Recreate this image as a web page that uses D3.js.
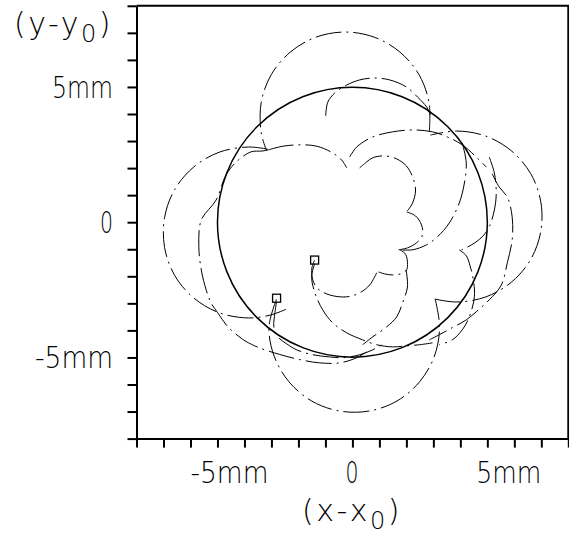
<!DOCTYPE html>
<html><head><meta charset="utf-8">
<script src="https://cdn.jsdelivr.net/npm/d3@7"></script>
<style>body{margin:0;background:#fff}svg{display:block}</style>
</head><body>
<svg id="c" width="569" height="535"></svg>
<script>
// ---- data (mm) ----
const xTickValues = [-8,-7,-6,-5,-4,-3,-2,-1,0,1,2,3,4,5,6,7,8];
const yTickValues = [-8,-7,-6,-5,-4,-3,-2,-1,0,1,2,3,4,5,6,7,8];
const xLabelValues = [-5, 0, 5];
const xLabelTexts = ["-5mm", "0", "5mm"];
const yLabelValues = [5, 0, -5];
const yLabelTexts = ["5mm", "0", "-5mm"];
const circleCenter = [0, 0];
const circleRadius = 5;
const startSquares = [[-1.40, -1.40], [-2.81, -2.81]];

// trajectory 2 (outer lobes)
const lobeB = [[-2.81,-2.84],[-3.09,-3.87],[-2.90,-4.95],[-2.35,-5.90],[-1.51,-6.61],[-0.48,-6.98],[0.62,-6.98],[1.65,-6.61],[2.49,-5.90],[3.04,-4.95],[3.23,-3.87],[3.07,-2.86]];
const lobeR = [[3.05,-2.84],[3.87,-2.95],[4.95,-2.76],[5.90,-2.21],[6.61,-1.37],[6.98,-0.34],[6.98,0.76],[6.61,1.79],[5.90,2.63],[4.95,3.18],[3.87,3.37],[2.89,3.22]];
const lobeT = [[2.85,3.34],[2.84,4.42],[2.47,5.45],[1.76,6.29],[0.81,6.84],[-0.27,7.03],[-1.35,6.84],[-2.30,6.29],[-3.01,5.45],[-3.38,4.42],[-3.38,3.32],[-3.18,2.64]];
const lobeL = [[-3.14,2.70],[-3.85,2.78],[-4.93,2.59],[-5.88,2.04],[-6.59,1.20],[-6.96,0.17],[-6.96,-0.93],[-6.59,-1.96],[-5.88,-2.80],[-4.93,-3.35],[-3.85,-3.54],[-3.03,-3.43],[-2.46,-3.22]];
const arcSq2b = [[-2.81,-2.94],[-2.87,-3.35],[-2.91,-3.87],[-2.76,-4.24],[-2.43,-4.50],[-2.06,-4.72],[-1.47,-4.90],[-0.84,-4.98],[-0.36,-5.01],[0.27,-4.90],[0.75,-4.72],[1.19,-4.46]];
// trajectory 1 pieces
const arcP1 = [[-1.40,-1.40],[-1.50,-1.69],[-1.47,-2.13],[-1.28,-2.46],[-0.84,-2.69],[-0.21,-2.76],[0.27,-2.61],[0.64,-2.32],[0.90,-1.87]];
const arcQ = [[-1.40,-1.54],[-1.51,-2.02],[-1.39,-2.61],[-1.10,-3.24],[-0.73,-3.72],[-0.21,-4.09],[0.38,-4.35],[0.90,-4.53],[1.49,-4.61],[2.01,-4.57],[2.49,-4.53],[2.97,-4.46]];
const arcC1 = [[-3.13,2.67],[-2.57,2.81],[-1.95,2.86],[-1.32,2.81],[-0.73,2.56],[-0.40,2.30],[-0.21,2.01]];
const arcC2 = [[0.27,2.01],[0.53,2.23],[0.75,2.38],[1.19,2.45],[1.64,2.34],[2.00,2.08],[2.23,1.67],[2.34,1.19],[2.23,0.71],[2.01,0.38]];
const arcC3 = [[2.01,0.38],[2.34,0.23],[2.56,-0.10],[2.60,-0.47],[2.38,-0.76],[2.04,-0.95],[1.71,-1.02]];
const arcC4 = [[1.75,-1.02],[1.93,-1.13],[2.01,-1.28],[2.04,-1.50],[2.01,-1.76],[1.78,-1.91],[1.49,-1.95],[1.19,-1.91],[0.97,-1.84]];
const arcD = [[1.99,-1.76],[2.04,-2.39],[1.86,-2.98],[1.64,-3.50],[1.27,-3.87],[0.75,-4.24],[0.38,-4.53]];
const arcS2 = [[-0.99,3.93],[-0.91,4.44],[-0.65,4.78],[-0.21,5.07],[0.27,5.26],[0.82,5.33],[1.38,5.26],[2.00,5.00],[2.41,4.63],[2.75,4.26],[2.89,3.96]];
const arcS3 = [[-0.10,2.41],[0.16,2.78],[0.75,3.15],[1.49,3.34],[2.23,3.41],[2.97,3.34],[3.52,3.15],[4.07,2.86],[4.59,2.41],[4.96,2.04]];
const arcS4 = [[4.07,2.93],[4.22,2.19],[4.15,1.45],[3.96,0.71],[3.59,-0.03],[3.15,-0.54],[2.74,-0.84],[2.23,-1.02],[1.75,-1.02]];
const arcR1 = [[5.07,2.41],[5.26,1.82],[5.33,1.08],[5.26,0.45],[5.07,-0.17],[4.81,-0.54],[4.41,-0.84],[4.04,-1.02]];
const arcR2 = [[5.18,1.79],[5.44,1.30],[5.74,0.93],[5.92,0.20],[5.92,-0.65],[5.74,-1.50],[5.52,-2.32],[5.07,-2.87],[4.59,-3.31],[4.22,-3.61],[3.70,-3.90],[3.22,-4.16],[2.85,-4.35]];
const arcR3 = [[3.96,-1.02],[4.22,-1.24],[4.37,-1.65],[4.48,-2.13],[4.52,-2.76],[4.33,-3.50],[4.07,-3.98],[3.70,-4.35],[3.22,-4.53]];
const arcL2 = [[-3.13,2.67],[-3.35,2.63],[-3.76,2.60],[-4.30,2.23],[-4.68,1.75],[-5.05,0.82],[-5.60,0.08],[-5.69,-0.90],[-5.60,-1.76],[-5.42,-2.50],[-5.24,-2.98],[-4.99,-3.35],[-4.62,-3.86],[-4.20,-4.23],[-3.94,-4.41],[-3.46,-4.64],[-2.69,-4.89],[-1.95,-5.08],[-1.21,-5.20],[-0.47,-5.20],[0.16,-5.01],[0.53,-4.79]];
const dashedCurves = [lobeB, lobeR, lobeT, lobeL, arcSq2b, arcP1, arcQ, arcC1, arcC2, arcC3, arcC4, arcD, arcS2, arcS3, arcS4, arcR1, arcR2, arcR3, arcL2];

// ---- drawing ----
const svg = d3.select("#c");
const x = d3.scaleLinear().domain([-8, 8]).range([136.5, 568.3]);
const y = d3.scaleLinear().domain([-8, 8]).range([438.6, 5.8]);
const font = "'DejaVu Sans', Lato, sans-serif";

const gx = svg.append("g").attr("transform", `translate(0,${y(-8)})`)
  .call(d3.axisBottom(x).tickValues(xTickValues).tickSize(9).tickSizeOuter(0).tickFormat(""));
const gy = svg.append("g").attr("transform", `translate(${x(-8)},0)`)
  .call(d3.axisLeft(y).tickValues(yTickValues).tickSize(9).tickSizeOuter(0).tickFormat(""));
[gx, gy].forEach(g => {
  g.selectAll("path.domain").attr("stroke", "#000").attr("stroke-width", 2);
  g.selectAll(".tick line").attr("stroke", "#000").attr("stroke-width", 2);
});
svg.append("path")
  .attr("d", `M${x(-8)},${y(8)}H${x(8)}V${y(-8)}`)
  .attr("fill", "none").attr("stroke", "#000").attr("stroke-width", 2);

const line = d3.line().x(d => x(d[0])).y(d => y(d[1])).curve(d3.curveCatmullRom.alpha(0.5));
const plot = svg.append("g");
plot.selectAll("path.traj").data(dashedCurves).join("path")
  .attr("class", "traj").attr("d", line)
  .attr("fill", "none").attr("stroke", "#000").attr("stroke-width", 1)
  .attr("stroke-dasharray", "26,5,2,5");

plot.append("circle")
  .attr("cx", x(circleCenter[0])).attr("cy", y(circleCenter[1]))
  .attr("r", x(circleRadius) - x(0))
  .attr("fill", "none").attr("stroke", "#000").attr("stroke-width", 1.5);

plot.selectAll("rect.sq").data(startSquares).join("rect")
  .attr("class", "sq")
  .attr("x", d => x(d[0]) - 4).attr("y", d => y(d[1]) - 4)
  .attr("width", 8).attr("height", 8)
  .attr("fill", "none").attr("stroke", "#000").attr("stroke-width", 1.3);

const txt = (sel) => sel.attr("font-family", font).attr("font-weight", 200).attr("fill", "#000");
svg.selectAll("text.yl").data(yLabelValues).join("text").attr("class", "yl")
  .call(txt).attr("font-size", 30)
  .attr("x", 113).attr("y", d => y(d) + 11)
  .attr("text-anchor", "end")
  .attr("textLength", (d, i) => yLabelTexts[i].length === 1 ? 13 : (yLabelTexts[i].length === 3 ? 61 : 78))
  .attr("lengthAdjust", "spacingAndGlyphs")
  .text((d, i) => yLabelTexts[i]);
svg.selectAll("text.xl").data(xLabelValues).join("text").attr("class", "xl")
  .call(txt).attr("font-size", 30)
  .attr("x", (d, i) => x(d) + [-27, -7, -11][i])
  .attr("y", 483)
  .attr("textLength", (d, i) => [78, 13, 65][i])
  .attr("lengthAdjust", "spacingAndGlyphs")
  .text((d, i) => xLabelTexts[i]);

function title(xp, yp, v) {
  const t = svg.append("text").call(txt).attr("font-size", 30).attr("x", xp).attr("y", yp)
    .attr("letter-spacing", 2.5);
  t.append("tspan").text(`(${v}-${v}`);
  t.append("tspan").attr("dy", 8).attr("font-size", 24).text("0");
  t.append("tspan").attr("dy", -8).text(")");
  return t;
}
title(14, 34, "y");
title(302, 521, "x");
</script>
</body></html>
